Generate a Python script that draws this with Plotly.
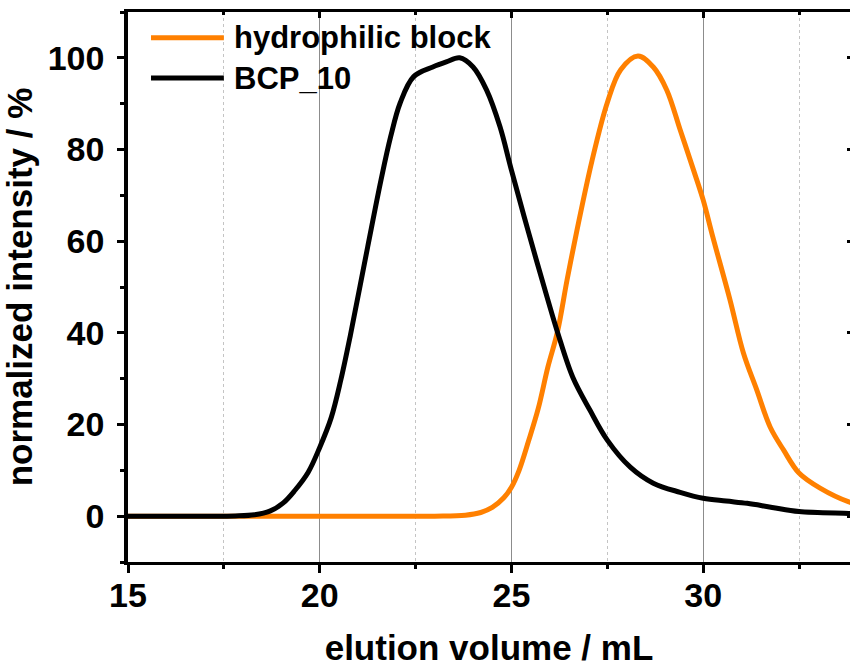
import plotly.graph_objects as go

# ---- data ----
series_names = ["hydrophilic block", "BCP_10"]
series_colors = ["#ff8000", "#000000"]

hydro_x = [15.0, 18.0, 21.0, 23.0, 23.8, 24.2, 24.5, 24.8, 25.0, 25.2, 25.45, 25.7, 25.95,
           26.2, 26.45, 26.7, 27.1, 27.5, 27.85, 28.3, 28.7, 29.05, 29.4, 29.75, 30.0,
           30.25, 30.7, 31.05, 31.4, 31.75, 32.1, 32.5, 33.05, 33.8, 34.0]
hydro_y = [0.0, 0.0, 0.0, 0.0, 0.2, 0.8, 1.9, 4.0, 6.3, 10.0, 16.5, 23.5, 32.5,
           40.2, 51.5, 62.0, 77.5, 90.2, 97.4, 100.4, 98.0, 93.0, 84.3, 75.5, 69.0,
           61.0, 47.2, 35.6, 27.5, 19.4, 14.4, 9.4, 6.1, 3.1, 2.7]

bcp_x = [15.0, 17.0, 17.8, 18.3, 18.7, 19.05, 19.35, 19.7, 20.0, 20.3, 20.55, 20.8, 21.25,
         21.6, 21.85, 22.1, 22.45, 22.95, 23.3, 23.65, 24.0, 24.35, 24.7, 25.0, 25.45,
         25.95, 26.2, 26.6, 27.05, 27.5, 28.1, 28.7, 29.4, 30.0, 30.6, 31.15, 31.8, 32.5,
         33.8, 34.0]
bcp_y = [0.0, 0.0, 0.05, 0.3, 1.1, 2.9, 5.6, 9.6, 15.0, 21.5, 29.7, 39.5, 58.7,
         73.4, 82.8, 90.2, 95.9, 98.0, 99.1, 100.0, 98.0, 93.0, 85.0, 75.5, 61.8,
         47.2, 40.2, 30.3, 23.1, 16.6, 10.7, 7.2, 5.2, 3.9, 3.3, 2.8, 1.9, 1.0,
         0.6, 0.5]

x_tickvals = [15, 20, 25, 30]
y_tickvals = [0, 20, 40, 60, 80, 100]
x_range = [15, 33.83]
y_range = [-10, 110]

FONT = "Liberation Sans, Arial, sans-serif"

fig = go.Figure()
for xs, ys, name, col in [(hydro_x, hydro_y, series_names[0], series_colors[0]),
                          (bcp_x, bcp_y, series_names[1], series_colors[1])]:
    fig.add_trace(go.Scatter(x=xs, y=ys, mode="lines", name=name,
                             line=dict(color=col, width=5, shape="spline", smoothing=1.0),
                             showlegend=False, cliponaxis=True))

# invisible trace to hold the mirrored axes
fig.add_trace(go.Scatter(x=[x_range[0]], y=[y_range[0]], xaxis="x2", yaxis="y2",
                         mode="markers", marker=dict(opacity=0), showlegend=False,
                         hoverinfo="skip"))

fig.update_layout(
    width=850, height=667,
    margin=dict(l=128, r=0, t=12, b=105),
    paper_bgcolor="white", plot_bgcolor="white",
    font=dict(family=FONT, color="black"),
    xaxis=dict(range=x_range, tickvals=x_tickvals, showline=True, linecolor="black",
               linewidth=3, ticks="outside", ticklen=8, tickwidth=3, tickcolor="black",
               tickfont=dict(size=34, family=FONT, weight="bold"), ticklabelstandoff=-7,
               showgrid=True, gridcolor="#8c8c8c", gridwidth=1, zeroline=False,
               minor=dict(dtick=2.5, tick0=15, ticks="outside", ticklen=4, tickwidth=3,
                          tickcolor="black", showgrid=True, gridcolor="#c4c4c4",
                          griddash="3px,3px", gridwidth=1),
               title=dict(text="elution volume / mL",
                          font=dict(size=35, family=FONT, weight="bold"), standoff=28)),
    yaxis=dict(range=y_range, tickvals=y_tickvals, showline=True, linecolor="black",
               linewidth=3.5, ticks="outside", ticklen=7, tickwidth=3, tickcolor="black",
               tickfont=dict(size=34, family=FONT, weight="bold"), ticklabelstandoff=6,
               showgrid=False, zeroline=False,
               minor=dict(dtick=10, tick0=0, ticks="outside", ticklen=4, tickwidth=3,
                          tickcolor="black", showgrid=False),
               title=dict(text="normalized intensity / %",
                          font=dict(size=35, family=FONT, weight="bold"), standoff=12)),
    xaxis2=dict(range=x_range, overlaying="x", side="top", showline=True, linecolor="black",
                linewidth=3, tickvals=x_tickvals, ticks="inside", ticklen=6, tickwidth=3,
                tickcolor="black", showticklabels=False, showgrid=False, zeroline=False,
                minor=dict(dtick=2.5, tick0=15, ticks="inside", ticklen=3, tickwidth=3,
                           tickcolor="black", showgrid=False)),
    yaxis2=dict(range=y_range, overlaying="y", side="right", showline=False,
                tickvals=y_tickvals, ticks="inside", ticklen=3, tickwidth=3,
                tickcolor="black", showticklabels=False, showgrid=False, zeroline=False),
)

# legend drawn by hand (long sample lines like the reference)
leg_y = [104.4, 95.6]
for name, col, ly in zip(series_names, series_colors, leg_y):
    fig.add_shape(type="line", xref="x", yref="y", x0=15.6, x1=17.5, y0=ly, y1=ly,
                  line=dict(color=col, width=5))
    fig.add_annotation(x=17.72, y=ly, xref="x", yref="y", text=name, showarrow=False,
                       xanchor="left", yanchor="middle",
                       font=dict(size=31, family=FONT, color="black", weight="bold"))

fig.write_html("out.html")
